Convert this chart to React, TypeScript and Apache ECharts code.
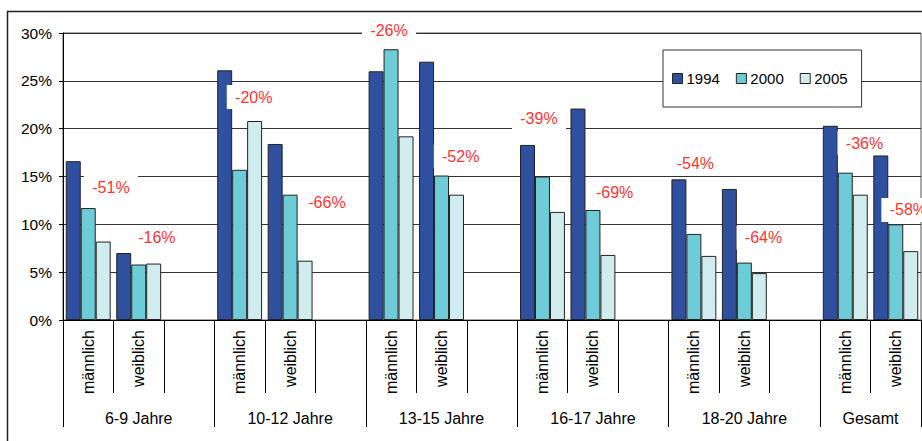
import React, { useEffect, useRef } from "react";
import * as echarts from "echarts";

const categories = [
  "männlich", "weiblich", "",
  "männlich", "weiblich", "",
  "männlich", "weiblich", "",
  "männlich", "weiblich", "",
  "männlich", "weiblich", "",
  "männlich", "weiblich",
];
const groupNames = ["6-9 Jahre", "10-12 Jahre", "13-15 Jahre", "16-17 Jahre", "18-20 Jahre", "Gesamt"];
const groupSizes = [3, 3, 3, 3, 3, 2];

const seriesNames = ["1994", "2000", "2005"];
const v1994 = [16.6, 7.0, null, 26.1, 18.4, null, 26.0, 27.0, null, 18.3, 22.1, null, 14.7, 13.7, null, 20.3, 17.2];
const v2000 = [11.7, 5.8, null, 15.7, 13.1, null, 28.3, 15.1, null, 15.0, 11.5, null, 9.0, 6.0, null, 15.4, 10.0];
const v2005 = [8.2, 5.9, null, 20.8, 6.2, null, 19.2, 13.1, null, 11.3, 6.8, null, 6.7, 4.9, null, 13.1, 7.2];

// change annotations: text and anchor (slot units, percent)
const changeTexts = ["-51%", "-16%", "-20%", "-66%", "-26%", "-52%", "-39%", "-69%", "-54%", "-64%", "-36%", "-58%"];
const changeX = [0.95, 1.86, 3.78, 5.23, 6.46, 7.88, 9.43, 10.93, 12.53, 13.88, 15.88, 16.75];
const changeY = [13.9, 8.6, 23.3, 12.3, 30.3, 17.1, 21.1, 13.3, 16.4, 8.6, 18.5, 11.5];

const colors = ["#2F4F9F", "#6ECCD8", "#D0ECEF"];
const FONT = "Liberation Sans";

export default function App() {
  const ref = useRef<HTMLDivElement>(null);
  useEffect(() => {
    if (!ref.current) return;
    const chart = echarts.init(ref.current, undefined, { renderer: "svg" });

    const groupCenters: number[] = [];
    const groupEdges: number[] = [0];
    let acc = 0;
    groupSizes.forEach((s) => {
      groupCenters.push(acc + s / 2);
      acc += s;
      groupEdges.push(acc);
    });

    const values = [v1994, v2000, v2005];
    const barSeries = seriesNames.map((name, i) => ({
      name,
      type: "bar",
      data: values[i],
      barGap: "0%",
      barCategoryGap: "11%",
      itemStyle: { color: colors[i], borderColor: "#222", borderWidth: 1 },
      z: 2,
    }));

    const labelData = changeTexts.map((t, i) => [changeX[i], changeY[i], t]);

    chart.setOption({
      animation: false,
      textStyle: { fontFamily: FONT },
      grid: {
        left: 63,
        top: 33,
        right: 1,
        bottom: 121,
        show: true,
        borderColor: "#555",
        borderWidth: 1,
        backgroundColor: "transparent",
      },
      legend: {
        data: seriesNames,
        left: 663,
        top: 50,
        orient: "horizontal",
        backgroundColor: "#fff",
        borderColor: "#333",
        borderWidth: 1,
        padding: [21, 14, 21, 9],
        itemWidth: 10,
        itemHeight: 10,
        itemGap: 16,
        icon: "rect",
        textStyle: { fontSize: 15, color: "#000", fontFamily: FONT, padding: [0, 0, 0, -1] },
        itemStyle: { borderColor: "#222", borderWidth: 1 },
      },
      xAxis: [
        {
          type: "category",
          data: categories,
          position: "bottom",
          axisLine: { lineStyle: { color: "#000", width: 1 } },
          axisTick: { show: true, interval: 0, length: 73, lineStyle: { color: "#000" } },
          axisLabel: {
            interval: 0,
            rotate: 90,
            margin: 10,
            fontSize: 16,
            color: "#000",
            fontFamily: FONT,
          },
          splitLine: { show: false },
        },
        {
          type: "value",
          min: 0,
          max: 17,
          position: "bottom",
          axisLine: { show: false },
          splitLine: { show: false },
          axisTick: {
            show: true,
            length: 107,
            customValues: groupEdges,
            lineStyle: { color: "#000" },
          },
          axisLabel: {
            show: true,
            customValues: groupCenters,
            margin: 90,
            fontSize: 16,
            color: "#000",
            fontFamily: FONT,
            formatter: (v: number) => {
              const idx = groupCenters.findIndex((c) => Math.abs(c - v) < 1e-6);
              return idx >= 0 ? groupNames[idx] : "";
            },
          },
        },
      ],
      yAxis: {
        type: "value",
        min: 0,
        max: 30,
        interval: 5,
        axisLine: { show: true, lineStyle: { color: "#000" } },
        axisTick: { show: true, length: 4, lineStyle: { color: "#000" } },
        axisLabel: {
          formatter: "{value}%",
          fontSize: 15.5,
          color: "#000",
          margin: 11,
          fontFamily: FONT,
        },
        splitLine: { show: true, lineStyle: { color: "#333", width: 1 } },
      },
      series: [
        ...barSeries,
        {
          name: "changes",
          type: "scatter",
          xAxisIndex: 1,
          yAxisIndex: 0,
          symbol: "rect",
          symbolSize: [54, 24],
          clip: false,
          z: 5,
          silent: true,
          itemStyle: { color: "#fff", opacity: 1 },
          data: labelData,
          label: {
            show: true,
            position: "inside",
            formatter: (p: any) => p.value[2],
            color: "#FF3333",
            fontSize: 16,
            fontFamily: FONT,
          },
        },
      ],
      graphic: [
        {
          type: "rect",
          shape: { x: 7.5, y: 11.5, width: 1000, height: 500 },
          style: { fill: "none", stroke: "#222", lineWidth: 1.5 },
          silent: true,
          z: 10,
        },
      ],
    });
    return () => chart.dispose();
  }, []);
  return (
    <div
      ref={ref}
      style={{ position: "absolute", left: 0, top: 0, width: 922, height: 441, background: "#fff" }}
    />
  );
}
